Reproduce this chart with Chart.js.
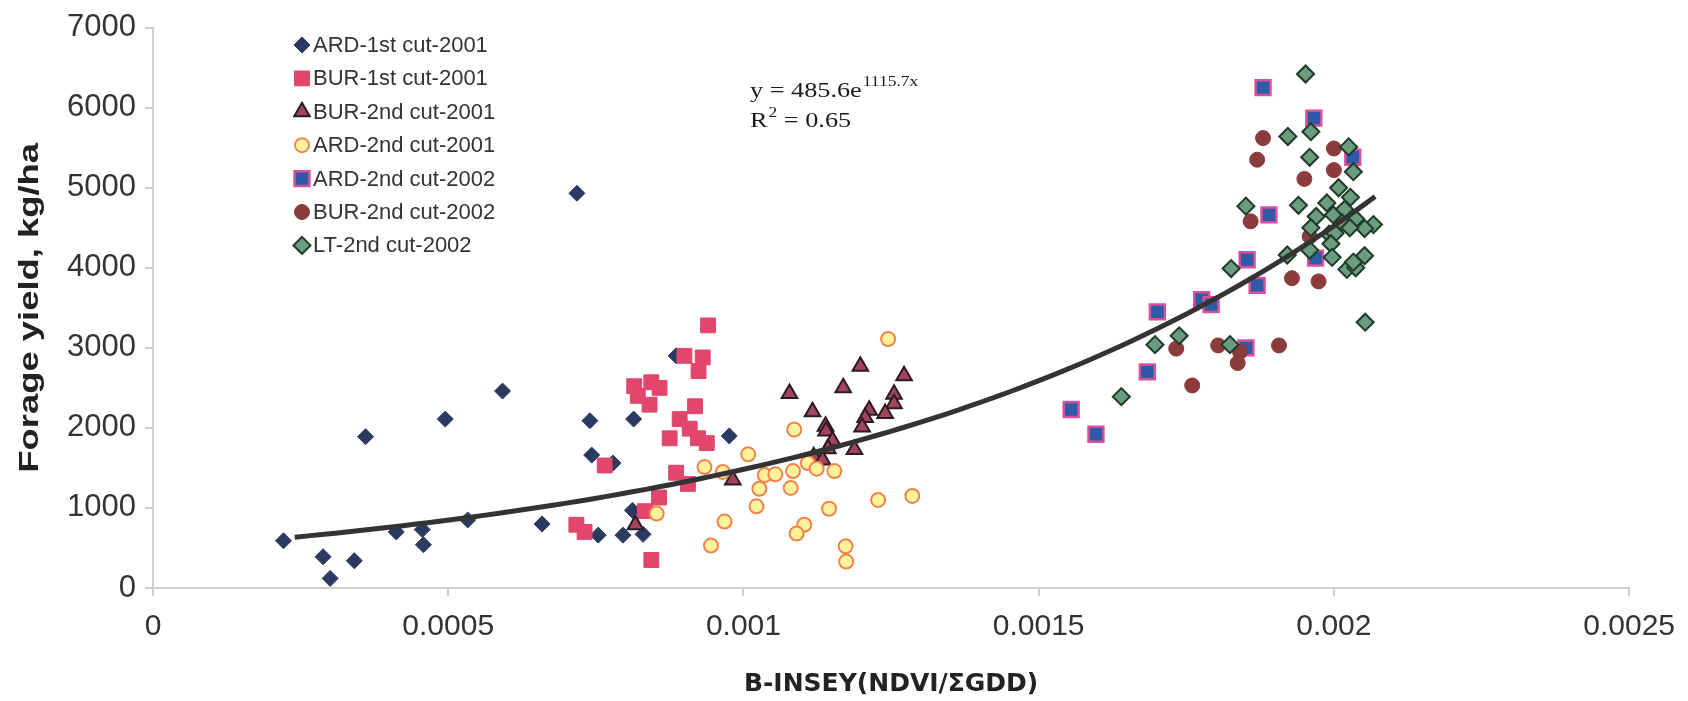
<!DOCTYPE html>
<html lang="en">
<head>
<meta charset="UTF-8">
<title>Forage yield vs B-INSEY</title>
<script src="https://cdn.jsdelivr.net/npm/chart.js@4"></script>
<style>
  html, body { margin: 0; padding: 0; background: #fff; }
  #wrap { width: 1688px; height: 701px; }
</style>
</head>
<body>
<div id="wrap"><canvas id="yieldChart" width="1688" height="701"></canvas></div>
<script>
// [B-INSEY, forage yield kg/ha] per site / cut / year
const ardFirst2001 = [
  [0.000221, 590], [0.000288, 390], [0.000300, 120], [0.000341, 340], [0.000360, 1890],
  [0.000412, 700], [0.000456, 730], [0.000458, 540], [0.000495, 2110], [0.000533, 850],
  [0.000592, 2460], [0.000659, 800], [0.000718, 4930], [0.000740, 2090], [0.000743, 1660],
  [0.000779, 1560], [0.000754, 660], [0.000796, 660], [0.000814, 2110], [0.000812, 970],
  [0.000830, 670], [0.000886, 2900], [0.000976, 1900]
];
const burFirst2001 = [
  [0.000940, 3280], [0.000900, 2900], [0.000931, 2880], [0.000924, 2710], [0.000815, 2520],
  [0.000844, 2570], [0.000858, 2500], [0.000821, 2400], [0.000841, 2290], [0.000918, 2270],
  [0.000892, 2110], [0.000909, 1990], [0.000923, 1870], [0.000938, 1810], [0.000875, 1870],
  [0.000765, 1530], [0.000886, 1440], [0.000906, 1300], [0.000857, 1130], [0.000833, 960],
  [0.000844, 350], [0.000717, 790], [0.000731, 700]
];
const burSecond2001 = [
  [0.001078, 2430], [0.001117, 2200], [0.001169, 2500], [0.001198, 2770], [0.001272, 2650],
  [0.001139, 2020], [0.001140, 1960], [0.001151, 1840], [0.001143, 1740], [0.001188, 1730],
  [0.001213, 2220], [0.001206, 2130], [0.001201, 2010], [0.001255, 2420], [0.001255, 2300],
  [0.001240, 2180], [0.001119, 1640], [0.001134, 1600], [0.000982, 1350], [0.000817, 790]
];
const ardSecond2001 = [
  [0.001245, 3110], [0.001086, 1980], [0.001008, 1670], [0.000934, 1510], [0.000965, 1450],
  [0.001036, 1410], [0.001054, 1420], [0.001084, 1460], [0.001109, 1560], [0.001124, 1490],
  [0.001154, 1460], [0.001027, 1240], [0.001080, 1250], [0.001022, 1020], [0.001145, 990],
  [0.001228, 1100], [0.001286, 1150], [0.000968, 830], [0.001103, 790], [0.001090, 680],
  [0.000945, 530], [0.001173, 520], [0.001174, 330], [0.000853, 930]
];
const ardSecond2002 = [
  [0.001555, 2230], [0.001597, 1920], [0.001684, 2700], [0.001701, 3450], [0.001776, 3600],
  [0.001792, 3540], [0.001851, 3000], [0.001853, 4100], [0.001870, 3780], [0.001890, 4660],
  [0.001969, 4120], [0.001966, 5870], [0.002032, 5380], [0.001880, 6250]
];
const burSecond2002 = [
  [0.001733, 2990], [0.001760, 2530], [0.001804, 3030], [0.001837, 2810], [0.001841, 2950],
  [0.001907, 3030], [0.001929, 3870], [0.001974, 3830], [0.001859, 4580], [0.001959, 4390],
  [0.001880, 5620], [0.001870, 5350], [0.001950, 5110], [0.002000, 5490], [0.002000, 5220]
];
const ltSecond2002 = [
  [0.001640, 2390], [0.001697, 3040], [0.001738, 3150], [0.001824, 3040], [0.001826, 3990],
  [0.001921, 4160], [0.001851, 4770], [0.001940, 4780], [0.002053, 3320], [0.001952, 6420],
  [0.001922, 5640], [0.001961, 5700], [0.002025, 5510], [0.001959, 5380], [0.002033, 5200],
  [0.002008, 5000], [0.001988, 4810], [0.002028, 4880], [0.001970, 4640], [0.001999, 4660],
  [0.002018, 4730], [0.002037, 4610], [0.002067, 4540], [0.002052, 4490], [0.002014, 4560],
  [0.002027, 4500], [0.001961, 4500], [0.001992, 4420], [0.002002, 4430], [0.001995, 4300],
  [0.001959, 4220], [0.001997, 4130], [0.002052, 4150], [0.002022, 3980], [0.002037, 4000],
  [0.002033, 4070]
];

const seriesNames = [
  'ARD-1st cut-2001', 'BUR-1st cut-2001', 'BUR-2nd cut-2001', 'ARD-2nd cut-2001',
  'ARD-2nd cut-2002', 'BUR-2nd cut-2002', 'LT-2nd cut-2002'
];
const seriesData = [
  ardFirst2001, burFirst2001, burSecond2001, ardSecond2001,
  ardSecond2002, burSecond2002, ltSecond2002
];

const xTickValues = [0, 0.0005, 0.001, 0.0015, 0.002, 0.0025];
const xTickLabels = ['0', '0.0005', '0.001', '0.0015', '0.002', '0.0025'];
const yTickValues = [0, 1000, 2000, 3000, 4000, 5000, 6000, 7000];
const yTickLabels = ['0', '1000', '2000', '3000', '4000', '5000', '6000', '7000'];
const xTitle = 'B-INSEY(NDVI/ΣGDD)';
const yTitle = 'Forage yield, kg/ha';

// exponential trend: y = a * e^(b x)
const trendA = 485.6;
const trendB = 1115.7;
const trendRange = [0.00024, 0.00207];
const trendR2 = '0.65';

// marker styles, one per series
const markerStyles = [
  { pointStyle: 'rectRot',  radius: 8,    fill: '#2b3a60', stroke: '#2b3a60', width: 1 },
  { pointStyle: 'rect',     radius: 10.5, fill: '#e2466c', stroke: '#e2466c', width: 1 },
  { pointStyle: 'triangle', radius: 9,    fill: '#a3445f', stroke: '#2a1c22', width: 2 },
  { pointStyle: 'circle',   radius: 7,    fill: '#fff29c', stroke: '#ef854a', width: 2 },
  { pointStyle: 'rect',     radius: 10.5, fill: '#2f5aa8', stroke: '#d9509a', width: 2.5 },
  { pointStyle: 'circle',   radius: 7.5,  fill: '#8c3b3b', stroke: '#8c3b3b', width: 1 },
  { pointStyle: 'rectRot',  radius: 8.5,  fill: '#6b9c7e', stroke: '#1e3a28', width: 2 }
];

const sansFont = "'Liberation Sans', Arial, sans-serif";
const serifFont = "'Liberation Serif', 'Times New Roman', serif";

function trendPoints() {
  const pts = [];
  const n = 80;
  for (let i = 0; i <= n; i++) {
    const x = trendRange[0] + (trendRange[1] - trendRange[0]) * i / n;
    pts.push({ x: x, y: trendA * Math.exp(trendB * x) });
  }
  return pts;
}

const datasets = seriesData.map((rows, i) => {
  const s = markerStyles[i];
  return {
    label: seriesNames[i],
    data: rows.map(r => ({ x: r[0], y: r[1] })),
    pointStyle: s.pointStyle,
    pointRadius: s.radius,
    pointHoverRadius: s.radius,
    backgroundColor: s.fill,
    borderColor: s.stroke,
    borderWidth: s.width,
    order: 10 - i
  };
});
datasets.push({
  label: 'trend',
  data: trendPoints(),
  showLine: true,
  pointRadius: 0,
  borderColor: '#333333',
  borderWidth: 5,
  fill: false,
  order: 0
});

// draws text widened by sx along its own direction
function wideText(ctx, text, x, y, font, sx) {
  ctx.font = font;
  ctx.save();
  ctx.translate(x, y);
  ctx.scale(sx, 1);
  ctx.fillText(text, 0, 0);
  ctx.restore();
  return x + ctx.measureText(text).width * sx;
}

// legend box inside the plot, the fitted equation and the y title
const overlayPlugin = {
  id: 'overlay',
  afterDraw(chart) {
    const ctx = chart.ctx;
    ctx.save();
    ctx.font = '22px ' + sansFont;
    ctx.textBaseline = 'middle';
    ctx.textAlign = 'left';
    seriesNames.forEach((name, i) => {
      const s = markerStyles[i];
      const y = 45 + i * 33.4;
      ctx.fillStyle = s.fill;
      ctx.strokeStyle = s.stroke;
      ctx.lineWidth = s.width;
      Chart.helpers.drawPoint(ctx, { pointStyle: s.pointStyle, radius: s.radius, rotation: 0, borderWidth: s.width }, 302, y);
      ctx.fillStyle = '#333';
      ctx.fillText(name, 313, y + 1);
    });

    ctx.fillStyle = '#1a1a1a';
    ctx.textBaseline = 'alphabetic';
    const sx = 1.25;
    let x = wideText(ctx, 'y = ' + trendA + 'e', 750, 97, '21px ' + serifFont, sx);
    wideText(ctx, trendB + 'x', x + 1, 86, '14px ' + serifFont, sx);
    x = wideText(ctx, 'R', 750, 127, '21px ' + serifFont, sx);
    x = wideText(ctx, '2', x + 1, 117, '14px ' + serifFont, sx);
    wideText(ctx, ' = ' + trendR2, x, 127, '21px ' + serifFont, sx);

    // rotated y-axis title
    const area = chart.chartArea;
    ctx.save();
    ctx.translate(30, (area.top + area.bottom) / 2);
    ctx.rotate(-Math.PI / 2);
    ctx.textAlign = 'center';
    ctx.textBaseline = 'middle';
    ctx.fillStyle = '#222';
    ctx.font = 'bold 28px ' + sansFont;
    ctx.scale(1.3, 1);
    ctx.fillText(yTitle, 0, 0);
    ctx.restore();
    ctx.restore();
  }
};

new Chart(document.getElementById('yieldChart'), {
  type: 'scatter',
  data: { datasets: datasets },
  plugins: [overlayPlugin],
  options: {
    responsive: false,
    animation: false,
    devicePixelRatio: 1,
    layout: { padding: { top: 26, right: 56, left: 0, bottom: 0 } },
    plugins: {
      legend: { display: false },
      tooltip: { enabled: false }
    },
    scales: {
      x: {
        type: 'linear',
        min: 0,
        max: 0.0025,
        afterBuildTicks: scale => { scale.ticks = xTickValues.map(v => ({ value: v })); },
        afterFit: scale => { scale.height = 113; },
        ticks: {
          callback: (v, i) => xTickLabels[i],
          font: { family: sansFont, size: 30 },
          color: '#333',
          padding: 13,
          maxRotation: 0
        },
        grid: { drawOnChartArea: false, drawTicks: true, tickLength: 8, color: '#cfcfcf', lineWidth: 2 },
        border: { display: true, color: '#cfcfcf', width: 2 },
        title: {
          display: true,
          text: xTitle,
          font: { family: "'DejaVu Sans', sans-serif", size: 25, weight: 'bold' },
          color: '#222',
          padding: { top: 0, bottom: 2 }
        }
      },
      y: {
        type: 'linear',
        min: 0,
        max: 7000,
        afterBuildTicks: scale => { scale.ticks = yTickValues.map(v => ({ value: v })); },
        afterFit: scale => { scale.width = 153; },
        ticks: {
          callback: (v, i) => yTickLabels[i],
          font: { family: sansFont, size: 31 },
          color: '#333',
          padding: 9
        },
        grid: { drawOnChartArea: false, drawTicks: true, tickLength: 8, color: '#cfcfcf', lineWidth: 2 },
        border: { display: true, color: '#cfcfcf', width: 2 }
      }
    }
  }
});
</script>
</body>
</html>
